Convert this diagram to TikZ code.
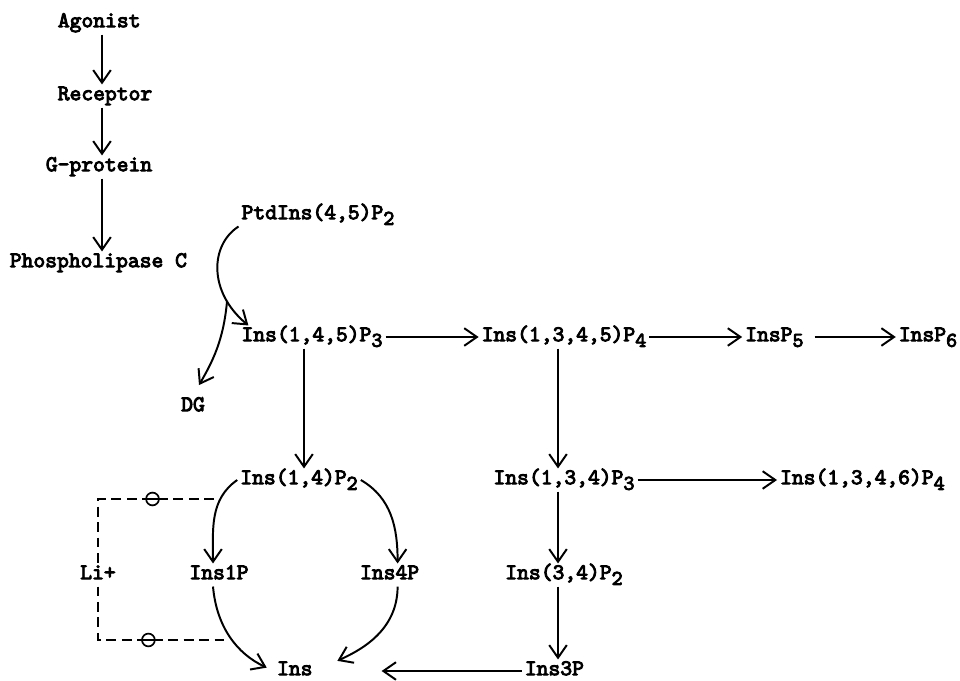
\documentclass[tikz,border=0pt]{standalone}
\usepackage{fontspec}
\usepackage{tikz}
\usetikzlibrary{arrows.meta,positioning}
\newfontfamily\pwfont{lmmono10-regular.otf}[FakeBold=4]
%lowered index, nearly full size as on the typewriter
\newcommand{\lo}[1]{\raisebox{-4pt}{\fontsize{15}{15}\selectfont#1}}

\begin{document}
\begin{tikzpicture}[
  chem/.style={font=\pwfont\fontsize{16}{19}\selectfont, inner sep=2pt, text height=9pt, text depth=3pt},
  pw/.style={line width=1.4pt, -{Straight Barb[length=9pt,width=12.5pt]}},
  inhib/.style={line width=1.2pt, dash pattern=on 7pt off 4pt},
  blocked/.style={circle, draw, solid, line width=1.2pt, fill=white, inner sep=0pt, minimum size=.32cm,
    path picture={\draw[line width=1.2pt] (path picture bounding box.west) -- (path picture bounding box.east);}}]
\useasboundingbox (0,0) rectangle (24,17);
%receptor cascade
\node[chem] (agonist) at (2.48,16.425) {Agonist};
\node[chem] (receptor) at (2.625,14.6) {Receptor};
\node[chem] (gprot) at (2.475,12.825) {G-protein};
\node[chem] (plc) at (2.46,10.425) {Phospholipase C};
\coordinate (lcol) at (2.55,0);
\draw[pw] (agonist.south -| lcol) -- (receptor.north -| lcol);
\draw[pw] (receptor.south -| lcol) -- (gprot.north -| lcol);
\draw[pw] (gprot.south -| lcol) -- (plc.north -| lcol);
%hydrolysis of the lipid
\node[chem] (ptdins) at (7.95,11.625) {PtdIns(4,5)P\lo{2}};
\node[chem] (ip3) at (7.8,8.575) {Ins(1,4,5)P\lo{3}};
\node[chem] (dg) at (4.825,6.825) {DG};
\draw[pw] (ptdins.south west) .. controls (5.25,10.875) and (5.2,9.7) .. coordinate[pos=.77] (split) ([xshift=.25cm]ip3.north west);
\draw[pw,shorten >=.3cm] (split) to[out=-95,in=60] (dg.north);
%phosphorylation row
\node[chem] (ip4) at (14.1,8.575) {Ins(1,3,4,5)P\lo{4}};
\node[chem] (ip5) at (19.36,8.575) {InsP\lo{5}};
\node[chem] (ip6) at (23.2,8.575) {InsP\lo{6}};
\draw[pw] (ip3) -- (ip4);
\draw[pw] (ip4) -- (ip5);
\draw[pw,shorten <=.2cm] (ip5) -- (ip6);
%dephosphorylation down to inositol
\coordinate (mcol) at (7.6,0);
\coordinate (rcol) at (13.95,0);
\node[chem] (i14p2) at (7.475,5) {Ins(1,4)P\lo{2}};
\node[chem] (i134p3) at (14.1,5) {Ins(1,3,4)P\lo{3}};
\node[chem] (i1346p4) at (21.56,5) {Ins(1,3,4,6)P\lo{4}};
\node[chem] (ins1p) at (5.475,2.625) {Ins1P};
\node[chem] (ins4p) at (9.74,2.625) {Ins4P};
\node[chem] (i34p2) at (14.1,2.625) {Ins(3,4)P\lo{2}};
\node[chem] (ins) at (7.37,.225) {Ins};
\node[chem] (ins3p) at (13.86,.225) {Ins3P};
\draw[pw] (ip3.south -| mcol) -- (i14p2.north -| mcol);
\draw[pw] (ip4.south -| rcol) -- (i134p3.north -| rcol);
\draw[pw] (i134p3.south -| rcol) -- (i34p2.north -| rcol);
\draw[pw] (i34p2.south -| rcol) -- (ins3p.north -| rcol);
\draw[pw] (i134p3) -- (i1346p4);
\draw[pw] (i14p2.west) to[out=215,in=90] ([xshift=-.15cm]ins1p.north);
\draw[pw] (i14p2.east) to[out=-30,in=90] ([xshift=.2cm]ins4p.north);
\draw[pw,shorten >=.2cm] ([xshift=-.15cm]ins1p.south) to[out=-85,in=155] (ins.west);
\draw[pw,shorten >=.6cm] ([xshift=.2cm]ins4p.south) to[out=-90,in=25] (ins.east);
\draw[pw,shorten >=1.65cm] (ins3p) -- (ins);
%lithium block on both monophosphatase steps
\node[chem] (li) at (2.45,2.625) {Li+};
\coordinate (blkA) at (5.35,4.525);
\coordinate (blkB) at (5.6,1);
\draw[inhib] (blkA) -- node[blocked,pos=.53]{} (blkA -| li) -- (li.north);
\draw[inhib] (li.south) -- (li.south |- blkB) -- node[blocked,pos=.4]{} (blkB);
\end{tikzpicture}
\end{document}
